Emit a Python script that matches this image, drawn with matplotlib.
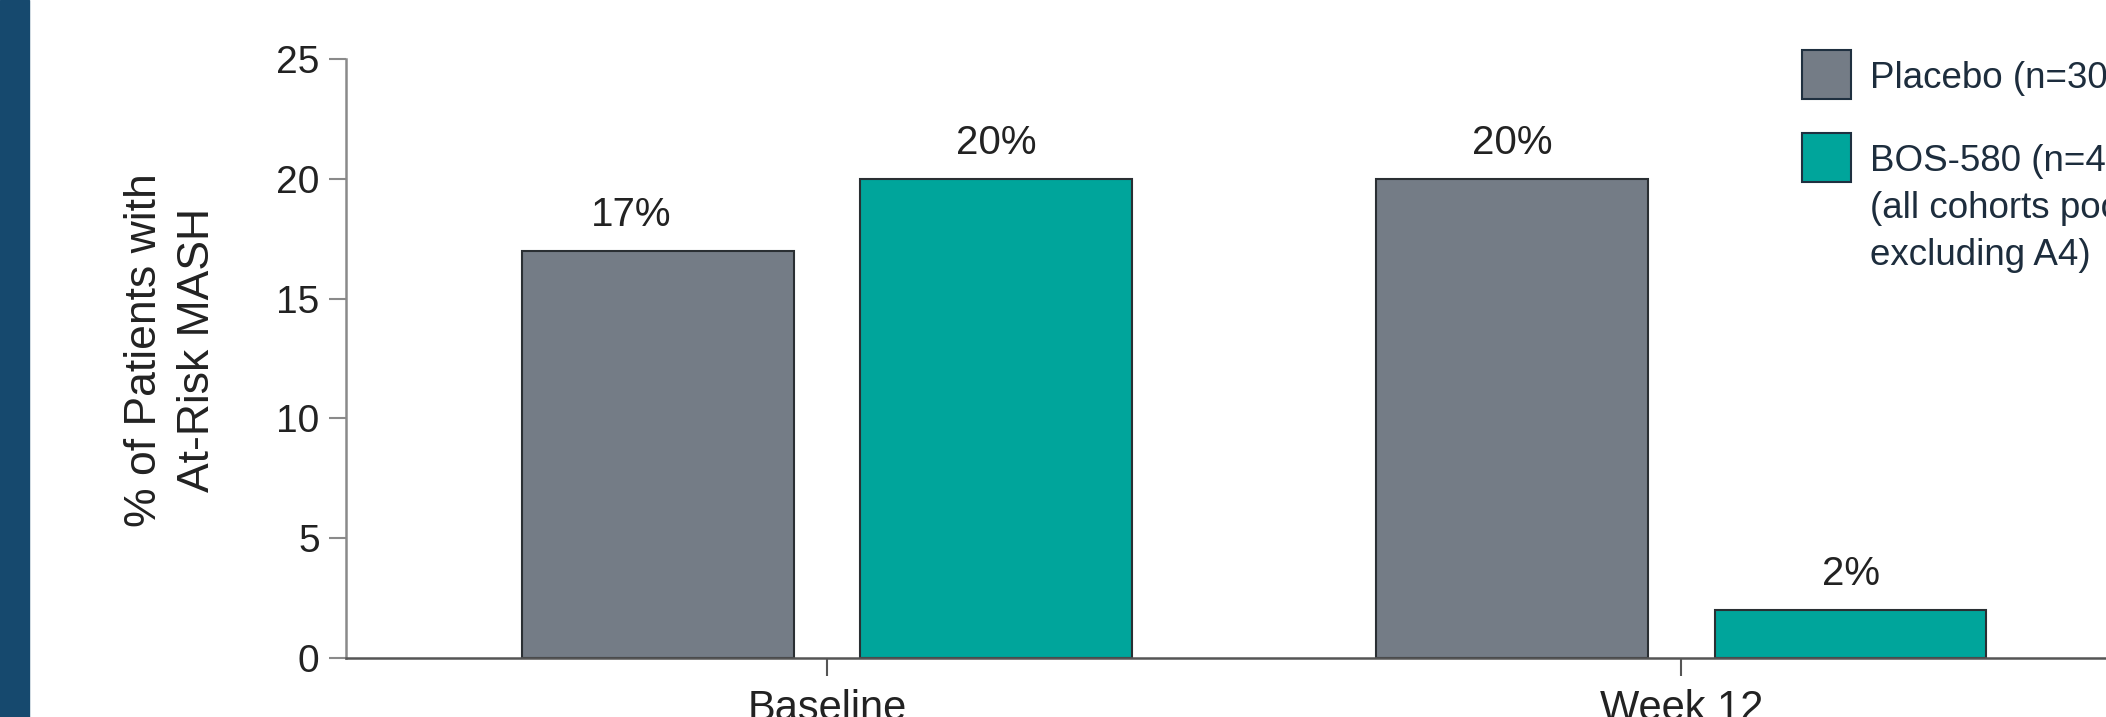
import matplotlib
matplotlib.use("Agg")
import matplotlib.pyplot as plt
import numpy as np
from matplotlib.patches import Rectangle

plt.rcParams['font.family'] = ['Liberation Sans', 'DejaVu Sans']

# data
timepoints = ["Baseline", "Week 12"]
placebo = [17, 20]
bos580 = [20, 2]
placebo_labels = ["17%", "20%"]
bos580_labels = ["20%", "2%"]
yticks = [0, 5, 10, 15, 20, 25]

grey = "#747c86"
teal = "#00a59b"
edge = "#2a2f33"
navy = "#16496e"
txt = "#1d2d3d"

W, H = 2106, 717
fig = plt.figure(figsize=(W / 100, H / 100), dpi=100)

# dark side strip
fig.patches.append(Rectangle((0, 0), 29 / W, 1, transform=fig.transFigure,
                             color=navy, zorder=0))

ax = fig.add_axes([346 / W, (H - 658) / H, (W - 346) / W, 599 / H])
x = np.arange(len(timepoints))
off = 0.198
bw = 0.318

ax.bar(x - off, placebo, bw, color=grey, edgecolor=edge, linewidth=1.5)
ax.bar(x + off, bos580, bw, color=teal, edgecolor=edge, linewidth=1.5)

# value labels (first one sits a bit left in the original)
dx_pl = [-19, 0]
for i in range(len(x)):
    ax.annotate(placebo_labels[i], (x[i] - off, placebo[i]), xytext=(dx_pl[i], 18),
                textcoords='offset points', ha='center', va='baseline',
                fontsize=29, color="#222222")
    ax.annotate(bos580_labels[i], (x[i] + off, bos580[i]), xytext=(0, 18),
                textcoords='offset points', ha='center', va='baseline',
                fontsize=29, color="#222222")

ax.set_xlim(-0.563, 1.497)
ax.set_ylim(0, 25)
ax.set_yticks(yticks)
ax.set_xticks(x)
ax.set_xticklabels(timepoints)

for s in ['top', 'right']:
    ax.spines[s].set_visible(False)
ax.spines['left'].set_color("#8a8a8a")
ax.spines['left'].set_linewidth(1.8)
ax.spines['bottom'].set_color("#555555")
ax.spines['bottom'].set_linewidth(1.8)

ax.tick_params(axis='y', direction='out', length=12, width=1.5, color="#8a8a8a",
               pad=7, labelsize=28, labelcolor="#222222")
ax.tick_params(axis='x', direction='out', length=13, width=1.5, color="#555555",
               pad=9, labelsize=30, labelcolor="#222222")

fig.text(171 / W, 1 - 350 / H, "% of Patients with\nAt-Risk MASH", rotation=90,
         ha='center', va='center', fontsize=32, linespacing=1.35,
         multialignment='center', color="#222222")

# legend drawn by hand
sq = 49
for top, col in [(50, grey), (133, teal)]:
    fig.patches.append(Rectangle((1802 / W, 1 - (top + sq) / H), sq / W, sq / H,
                                 transform=fig.transFigure, facecolor=col,
                                 edgecolor="#1f3040", linewidth=1.5))

legend_lines = [("Placebo (n=30)", 87.5), ("BOS-580 (n=4", 171),
                ("(all cohorts pooled,", 218), ("excluding A4)", 265)]
for s, b in legend_lines:
    fig.text(1870 / W, 1 - b / H, s, ha='left', va='baseline', fontsize=26.5,
             color=txt)

plt.savefig("out.png", dpi=100)
